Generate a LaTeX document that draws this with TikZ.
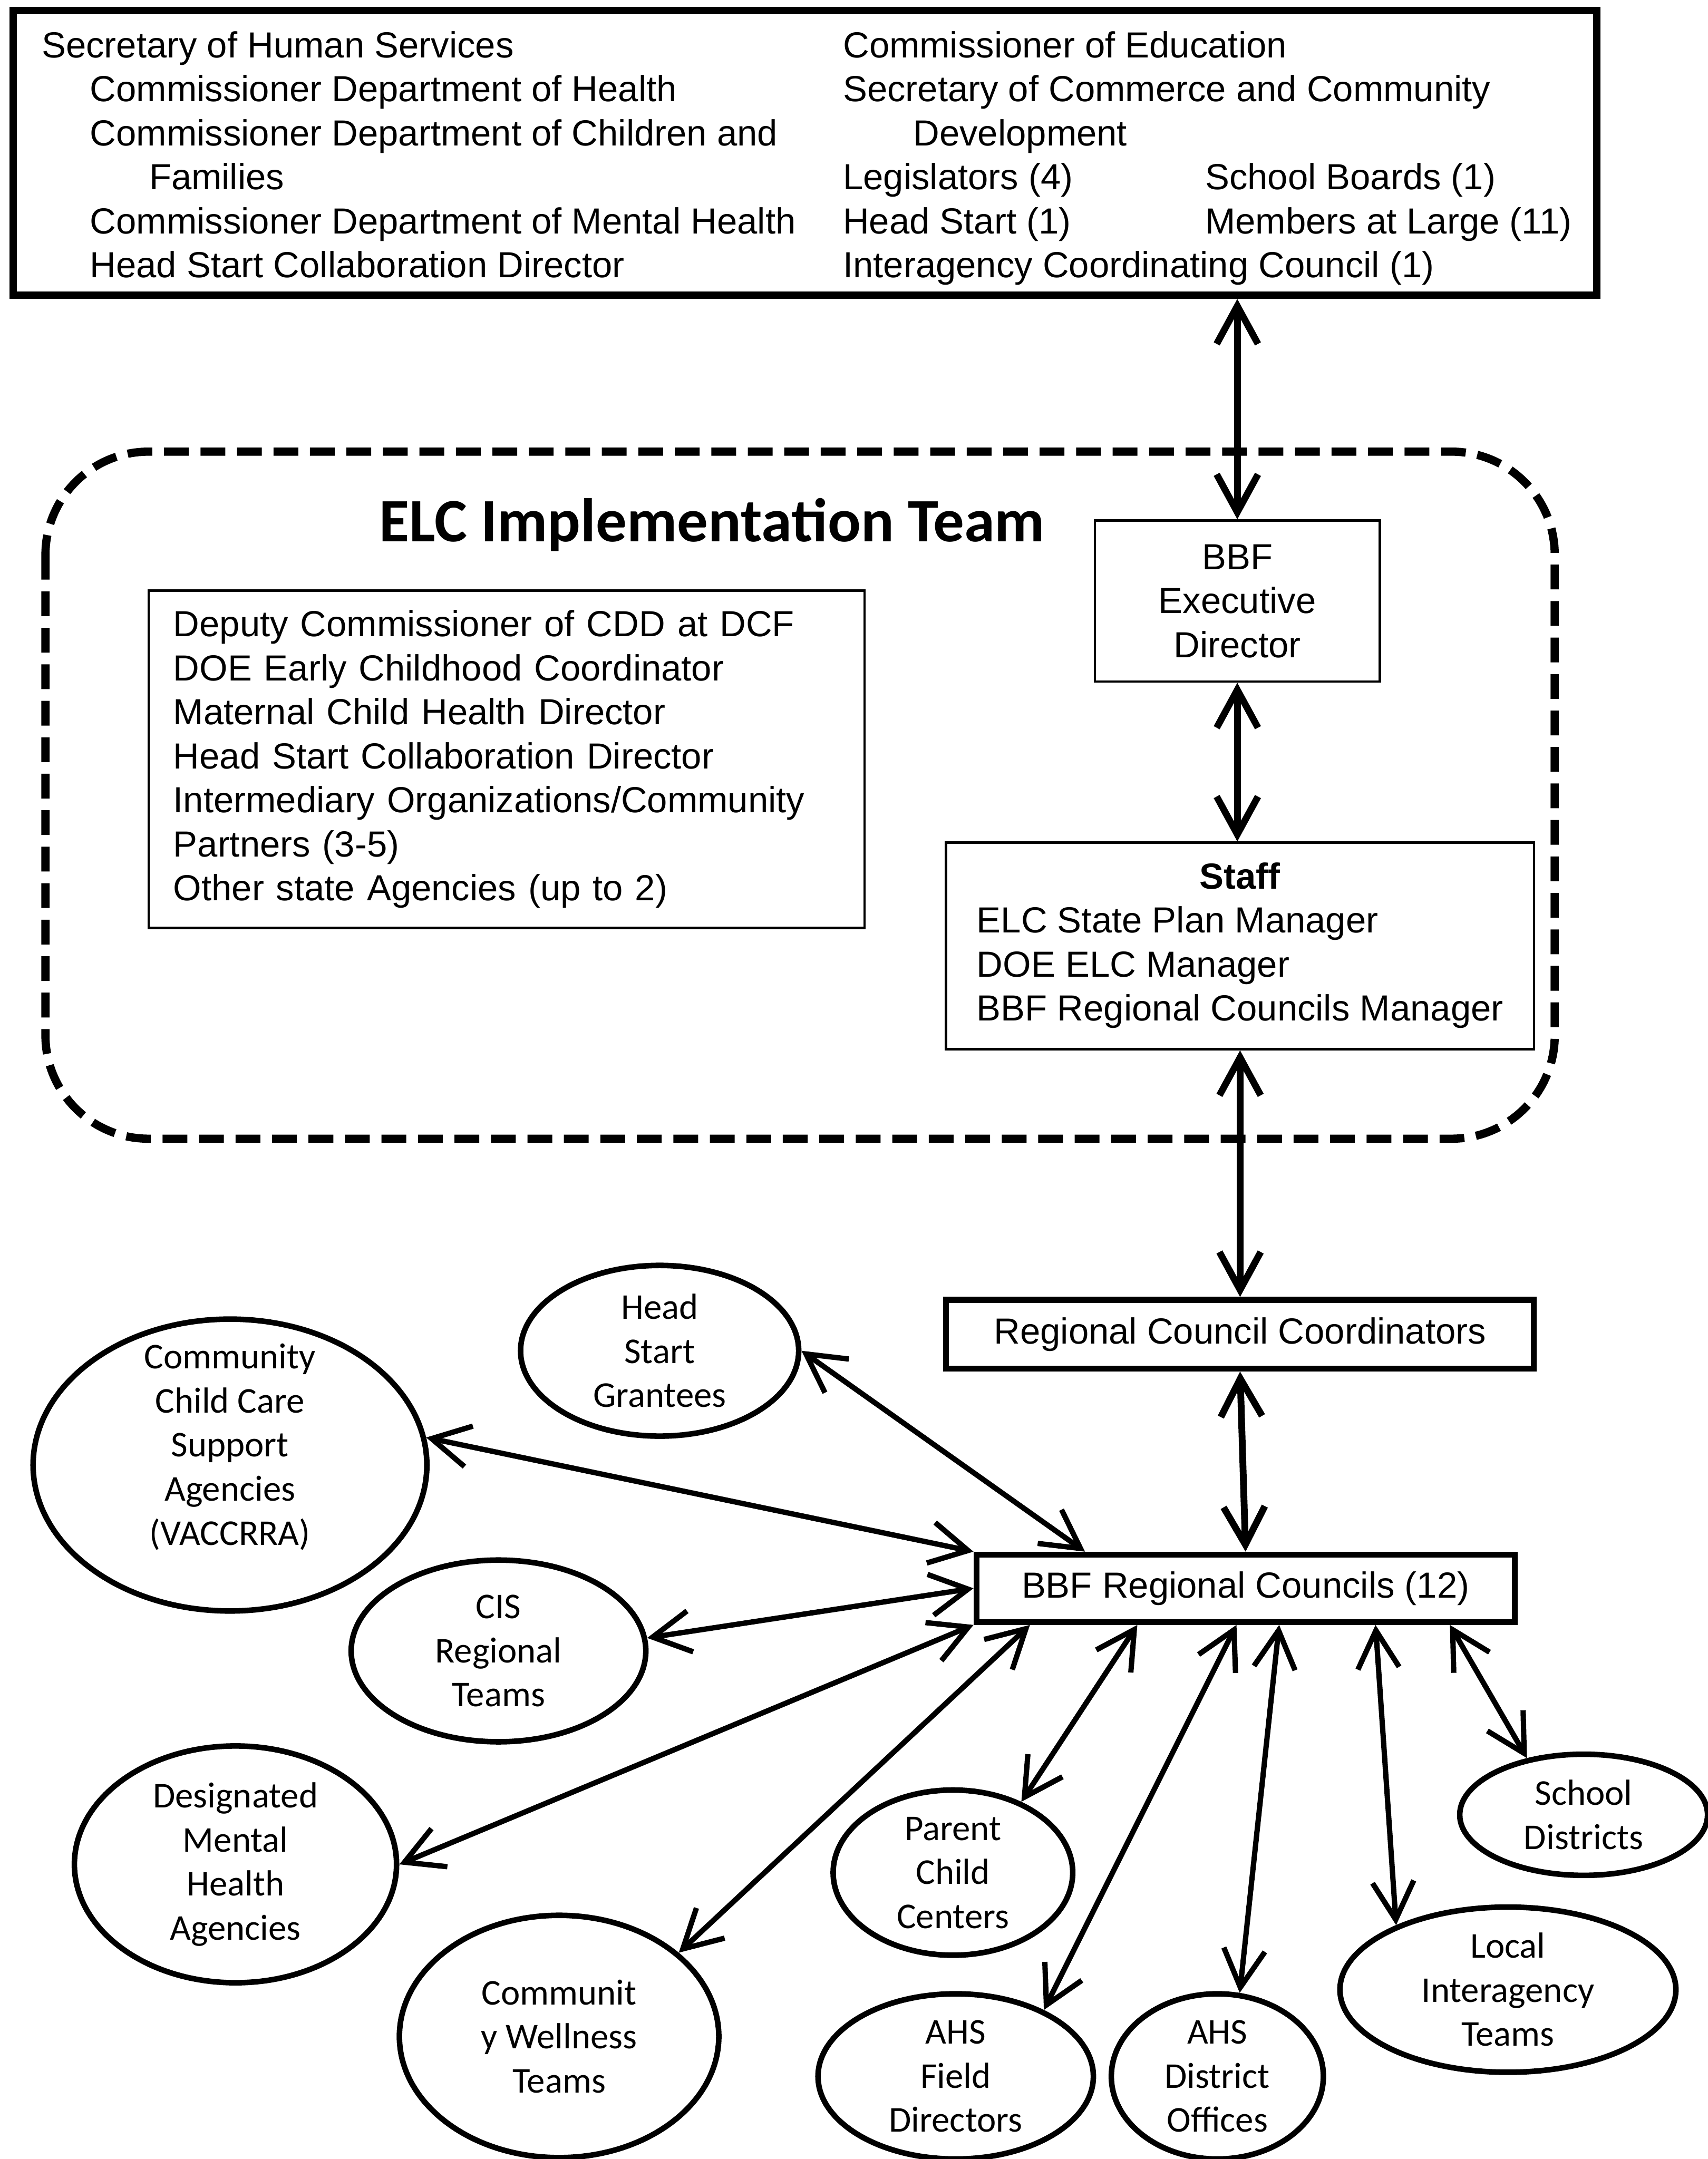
\documentclass[tikz,border=0pt]{standalone}
\usepackage{fontspec}
\setmainfont{Liberation Sans}
\newfontfamily\calibri{Carlito}
\usetikzlibrary{arrows.meta,shapes.geometric}

\begin{document}
\begin{tikzpicture}[
    x=0.02cm, y=-0.02cm,
    every node/.style={inner sep=0pt, font=\fontsize{15}{18.2}\selectfont},
    plainbox/.style={rectangle, draw=black, line width=1pt, align=center},
    heavybox/.style={rectangle, draw=black, line width=2.4pt, align=center},
    group/.style={ellipse, draw=black, line width=2.3pt, align=center, font=\calibri\fontsize{15}{18.2}\selectfont},
    link/.style={{Straight Barb[length=5.5mm,width=6mm]}-{Straight Barb[length=5.5mm,width=6mm]}, line width=2.2pt},
    spine/.style={link, line width=2.8pt},
    teamline/.style={line width=3.4pt, rounded corners=1.5cm, dash pattern=on 0.36cm off 0.17cm}
]
    \useasboundingbox (0,0) rectangle (1240,1568);

    % state board
    \node[heavybox, line width=3pt, minimum width=23cm, minimum height=4.14cm] at (584.5,111) (board) {};
    \node[anchor=north west] at (30,19) (members) {\begin{tabular}{@{}p{11.64cm}@{}p{5.26cm}@{}l@{}}
        Secretary of Human Services & \multicolumn{2}{@{}l@{}}{Commissioner of Education} \\
        \hspace*{0.7cm}Commissioner Department of Health & \multicolumn{2}{@{}l@{}}{Secretary of Commerce and Community} \\
        \hspace*{0.7cm}Commissioner Department of Children and & \multicolumn{2}{@{}l@{}}{\hspace*{1.02cm}Development} \\
        \hspace*{1.56cm}Families & Legislators (4) & School Boards (1) \\
        \hspace*{0.7cm}Commissioner Department of Mental Health & Head Start (1) & Members at Large (11) \\
        \hspace*{0.7cm}Head Start Collaboration Director & \multicolumn{2}{@{}l@{}}{Interagency Coordinating Council (1)}
    \end{tabular}};

    % implementation team
    \draw[teamline] (33,328) rectangle (1129,827);
    \node[font=\calibri\bfseries\fontsize{25.5}{30}\selectfont] at (517,381) (title) {ELC Implementation Team};
    \node[plainbox, anchor=north west, align=left, text width=9.68cm, inner xsep=0.36cm, minimum height=4.9cm] at (107,428) (implteam) {Deputy Commissioner of CDD at DCF\\
        DOE Early Childhood Coordinator\\
        Maternal Child Health Director\\
        Head Start Collaboration Director\\
        Intermediary Organizations/Community\\
        Partners (3-5)\\
        Other state Agencies (up to 2)};
    \node[plainbox, minimum width=4.14cm, minimum height=2.34cm] at (898.5,436.5) (exec) {BBF\\Executive\\Director};
    \node[plainbox, minimum width=8.54cm, minimum height=3cm] at (900.5,687) (staff) {\begin{tabular}{@{}l@{}}
        \multicolumn{1}{@{}c@{}}{\textbf{Staff}} \\
        ELC State Plan Manager \\
        DOE ELC Manager \\
        BBF Regional Councils Manager
    \end{tabular}};

    % regional level
    \node[heavybox, minimum width=8.54cm, minimum height=1cm] at (900.5,969) (coord) {Regional Council Coordinators};
    \node[heavybox, minimum width=7.82cm, minimum height=0.98cm] at (904.5,1153.5) (regc) {BBF Regional Councils (12)};

    % partners
    \node[group, minimum width=4.04cm, minimum height=2.48cm] at (479,981) (hsg) {Head\\Start\\Grantees};
    \node[group, minimum width=5.72cm, minimum height=4.24cm] at (167,1064) (ccc) {\raisebox{0.12cm}[0pt][0pt]{\begin{tabular}{@{}c@{}}Community\\Child Care\\Support\\Agencies\\(VACCRRA)\end{tabular}}};
    \node[group, minimum width=4.28cm, minimum height=2.64cm] at (362,1199) (cis) {CIS\\Regional\\Teams};
    \node[group, minimum width=4.68cm, minimum height=3.44cm] at (171,1354) (dmh) {Designated\\Mental\\Health\\Agencies};
    \node[group, minimum width=4.64cm, minimum height=3.52cm] at (406,1479) (cwt) {Communit\\y Wellness\\Teams};
    \node[group, minimum width=3.48cm, minimum height=2.4cm] at (692,1360) (pcc) {Parent\\Child\\Centers};
    \node[group, minimum width=4cm, minimum height=2.4cm] at (694,1508) (ahsf) {AHS\\Field\\Directors};
    \node[group, minimum width=3.08cm, minimum height=2.4cm] at (884,1508) (ahsd) {AHS\\District\\Offices};
    \node[group, minimum width=4.88cm, minimum height=2.4cm] at (1095,1445) (lit) {Local\\Interagency\\Teams};
    \node[group, minimum width=3.6cm, minimum height=1.76cm] at (1150,1318) (sd) {School\\Districts};

    \draw[spine] (exec.north |- board.south) -- (exec.north);
    \draw[spine] (exec.south) -- (exec.south |- staff.north);
    \draw[spine] (staff.south) -- (coord.north);
    \draw[spine] (coord.south) -- (regc.north);

    \draw[link] ([xshift=1.62cm]regc.north west) -- (hsg.east);
    \draw[link] (regc.north west) -- (ccc.8);
    \draw[link] (regc.west) -- (cis.5);
    \draw[link] (regc.south west) -- (dmh.east);
    \draw[link] ([xshift=0.82cm]regc.south west) -- (cwt.35);
    \draw[link] ([xshift=2.38cm]regc.south west) -- (pcc.46);
    \draw[link] ([xshift=3.82cm]regc.south west) -- (ahsf.37);
    \draw[link] ([xshift=4.44cm]regc.south west) -- (ahsd.75);
    \draw[link] ([xshift=5.84cm]regc.south west) -- (lit.150);
    \draw[link] ([xshift=6.92cm]regc.south west) -- (sd.135);
\end{tikzpicture}
\end{document}
